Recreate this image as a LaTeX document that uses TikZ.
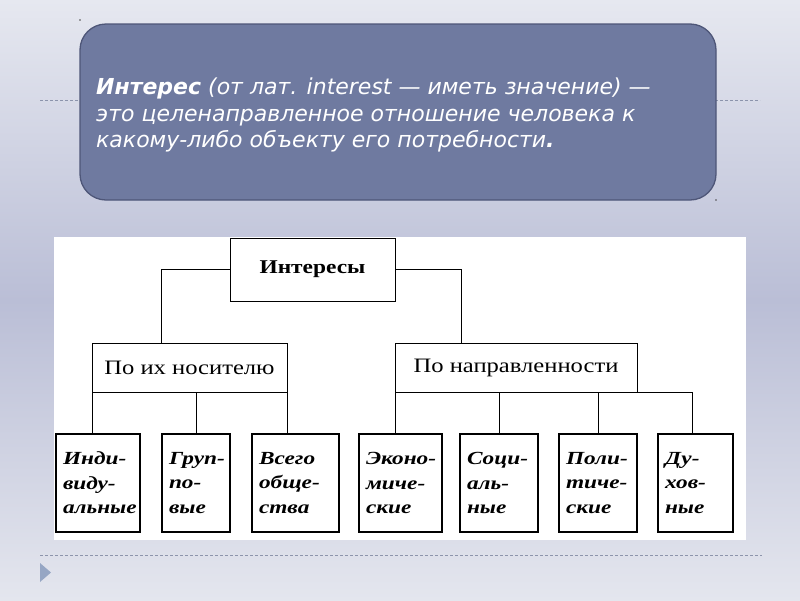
\documentclass[tikz,border=0pt]{standalone}
\usepackage{fontspec}
\setmainfont{Liberation Serif}
\newfontfamily\dvs{DejaVu Sans}
\newfontfamily\schfont[FakeStretch=1.2]{Liberation Serif}
\newfontfamily\kidfont[FakeStretch=1.26]{Liberation Serif}
\definecolor{bgtop}{RGB}{230,232,240}
\definecolor{bgmid}{RGB}{186,190,214}
\definecolor{bgbot}{RGB}{228,230,238}
\definecolor{boxfill}{RGB}{111,122,160}
\definecolor{boxline}{RGB}{78,86,120}
\definecolor{dashc}{RGB}{140,148,172}
\definecolor{tri}{RGB}{150,166,196}
\tikzset{
  sepline/.style={dashc, line width=0.8pt, dash pattern=on 3pt off 2pt},
  catbox/.style={draw=black, line width=1pt, fill=white, inner sep=0pt, outer sep=0pt},
  kidbox/.style={draw=black, line width=1.1pt, fill=white, inner xsep=7pt, inner ysep=0pt,
    outer sep=0pt, minimum height=98pt, align=left,
    font=\kidfont\bfseries\itshape\fontsize{18.5}{24.5}\selectfont},
  conn/.style={draw=black, line width=1pt}
}
\begin{document}
\begin{tikzpicture}[x=1pt,y=-1pt]
\useasboundingbox (0,0) rectangle (800,600);
% background
\fill[top color=bgtop, bottom color=bgmid] (0,0) rectangle (800,300.5);
\fill[top color=bgmid, bottom color=bgbot] (0,300) rectangle (800,600);
% dashed separator lines
\draw[sepline] (40,100) -- (760,100);
\draw[sepline] (40,555) -- (762,555);
% triangle bullet
\fill[tri] (40,563) -- (51,572.5) -- (40,582) -- cycle;
% specks
\fill[black!70] (80,20) circle (0.8);
\fill[black!70] (716,200) circle (0.8);
% top definition box
\node[draw=boxline, line width=1.3pt, fill=boxfill, rounded corners=26pt,
      minimum width=636pt, minimum height=176pt, inner sep=0pt] (defbox) at (398,112) {};
\node[anchor=north west, inner sep=0pt, align=left, text=white,
      font=\dvs\itshape\fontsize{22}{26.5}\selectfont] (deftext) at (96,78)
  {\textbf{Интерес} (от лат. interest — иметь значение) —\\
   это целенаправленное отношение человека к\\
   какому-либо объекту его потребности\textbf{.}};
% white panel
\fill[white] (54,237) rectangle (746,540);
% category boxes
\node[catbox, minimum width=165pt, minimum height=63pt,
      font=\schfont\bfseries\fontsize{19.5}{21}\selectfont] (root) at (312.5,269.5) {Интересы};
\node[catbox, minimum width=195pt, minimum height=49pt,
      font=\schfont\fontsize{20.5}{22}\selectfont] (nos) at (189.5,367.5) {По их носителю};
\node[catbox, minimum width=242pt, minimum height=49pt,
      font=\schfont\fontsize{20.5}{22}\selectfont] (nap) at (516,367.5) {По направленности};
% leaf boxes
\node[kidbox, text width=70pt] (ind) at (98,483) {\mbox{Инди-}\\\mbox{виду-}\\\mbox{альные}};
\node[kidbox, text width=54pt] (grp) at (196,483) {\mbox{Груп-}\\\mbox{по-}\\\mbox{вые}};
\node[kidbox, text width=73pt] (vse) at (295.5,483) {\mbox{Всего}\\\mbox{обще-}\\\mbox{ства}};
\node[kidbox, text width=69pt] (eko) at (400.5,483) {\mbox{Эконо-}\\\mbox{миче-}\\\mbox{ские}};
\node[kidbox, text width=64pt] (soc) at (499,483) {\mbox{Соци-}\\\mbox{аль-}\\\mbox{ные}};
\node[kidbox, text width=64pt] (pol) at (598,483) {\mbox{Поли-}\\\mbox{тиче-}\\\mbox{ские}};
\node[kidbox, text width=61pt] (duh) at (695.5,483) {\mbox{Ду-}\\\mbox{хов-}\\\mbox{ные}};
% connectors
\coordinate (lj) at (161.7,343);
\coordinate (rj) at (461.7,343);
\coordinate (nape) at (692,392);
\draw[conn] (root.west) -| (lj);
\draw[conn] (root.east) -| (rj);
\draw[conn] (nos.south west) -- (nos.south west |- ind.north);
\draw[conn] (grp.north) -- (grp.north |- nos.south);
\draw[conn] (nos.south east) -- (nos.south east |- vse.north);
\draw[conn] (nap.south west) -- (nap.south west |- eko.north);
\draw[conn] (soc.north) -- (soc.north |- nap.south);
\draw[conn] (pol.north) -- (pol.north |- nap.south);
\draw[conn] (nap.south east) -- (nape) -- (nape |- duh.north);
\end{tikzpicture}
\end{document}
